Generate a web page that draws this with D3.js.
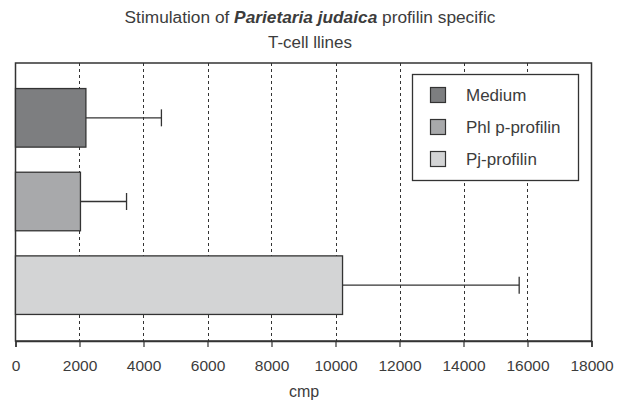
<!DOCTYPE html>
<html>
<head>
<meta charset="utf-8">
<script src="https://cdn.jsdelivr.net/npm/d3@7/dist/d3.min.js"></script>
<style>
  body { margin: 0; background: #fff; }
  text { font-family: "Liberation Sans", Arial, sans-serif; fill: #3c3c3c; }
</style>
</head>
<body>
<svg id="chart" width="626" height="405"></svg>
<script>
// Stimulation of T-cell lines, counts per minute
const categories = ["Medium", "Phl p-profilin", "Pj-profilin"];
const means = [2200, 2030, 10220];
const errors = [2360, 1440, 5520];   // upper error (SD)
const colors = ["#7d7e80", "#a8a9ab", "#d3d4d5"];
const xTicks = [0, 2000, 4000, 6000, 8000, 10000, 12000, 14000, 16000, 18000];

const svg = d3.select("#chart");
const plotLeft = 15.5, plotRight = 591.5, plotTop = 63, plotBottom = 341;

const x = d3.scaleLinear().domain([0, 18000]).range([plotLeft, plotRight]);
const y = d3.scaleBand().domain(categories).range([76, 327])
  .paddingInner(0.3).paddingOuter(0.15);

// Title
const title = svg.append("text").attr("x", 310).attr("y", 23)
  .attr("text-anchor", "middle").style("font-size", "17.3px");
title.append("tspan").text("Stimulation of ");
title.append("tspan").text("Parietaria judaica").style("font-style", "italic").style("font-weight", "bold");
title.append("tspan").text(" profilin specific");
svg.append("text").attr("x", 310).attr("y", 48)
  .attr("text-anchor", "middle").style("font-size", "17px").text("T-cell llines");

// Dashed vertical grid
svg.append("g").selectAll("line")
  .data(xTicks.filter(d => d > 0 && d < 18000))
  .join("line")
  .attr("x1", d => Math.round(x(d)) + 0.5).attr("x2", d => Math.round(x(d)) + 0.5)
  .attr("y1", plotTop).attr("y2", plotBottom)
  .attr("stroke", "#333").attr("stroke-width", 1)
  .attr("stroke-dasharray", "3,3");

// Plot frame
svg.append("rect")
  .attr("x", plotLeft).attr("y", plotTop)
  .attr("width", plotRight - plotLeft).attr("height", plotBottom - plotTop)
  .attr("fill", "none").attr("stroke", "#333").attr("stroke-width", 1.5);

// Bottom axis
const axis = svg.append("g").attr("transform", `translate(0,${plotBottom})`)
  .call(d3.axisBottom(x).tickValues(xTicks).tickSize(6).tickPadding(13).tickFormat(d3.format("d")));
axis.select(".domain").attr("stroke", "#333").attr("stroke-width", 1.5);
axis.selectAll(".tick line").attr("stroke", "#333").attr("stroke-width", 1.2);
axis.selectAll(".tick text").style("font-size", "15.5px")
  .style("font-family", "'Liberation Sans', Arial, sans-serif").attr("fill", "#3c3c3c");

svg.append("text").attr("x", 304).attr("y", 397)
  .attr("text-anchor", "middle").style("font-size", "16px").text("cmp");

// Error bars
const eb = svg.append("g").attr("stroke", "#333").attr("stroke-width", 1.3);
categories.forEach((c, i) => {
  const cy = y(c) + y.bandwidth() / 2;
  eb.append("line").attr("x1", x(means[i])).attr("x2", x(means[i] + errors[i]))
    .attr("y1", cy).attr("y2", cy);
  eb.append("line").attr("x1", x(means[i] + errors[i])).attr("x2", x(means[i] + errors[i]))
    .attr("y1", cy - 8.5).attr("y2", cy + 8.5);
});

// Bars
svg.append("g").selectAll("rect")
  .data(categories)
  .join("rect")
  .attr("x", x(0))
  .attr("y", d => y(d))
  .attr("width", (d, i) => x(means[i]) - x(0))
  .attr("height", y.bandwidth())
  .attr("fill", (d, i) => colors[i])
  .attr("stroke", "#333").attr("stroke-width", 1.3);

// Legend
const lg = svg.append("g");
lg.append("rect").attr("x", 412.5).attr("y", 74.5).attr("width", 166).attr("height", 106)
  .attr("fill", "#fff").attr("stroke", "#333").attr("stroke-width", 1.3);
categories.forEach((c, i) => {
  const cy = 95 + i * 32;
  lg.append("rect").attr("x", 430.5).attr("y", cy - 7.5).attr("width", 15).attr("height", 15)
    .attr("fill", colors[i]).attr("stroke", "#333").attr("stroke-width", 1.2);
  lg.append("text").attr("x", 466).attr("y", cy + 6).style("font-size", "17px").text(c);
});
</script>
</body>
</html>
